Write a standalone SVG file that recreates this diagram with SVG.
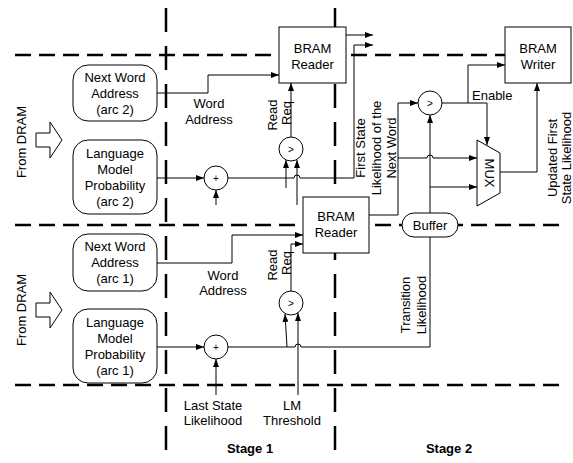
<svg xmlns="http://www.w3.org/2000/svg" width="573" height="463" viewBox="0 0 573 463">
<defs>
<marker id="ah" markerUnits="userSpaceOnUse" viewBox="0 0 8 6" markerWidth="8" markerHeight="6" refX="8" refY="3" orient="auto">
<path d="M0,0 L8,3 L0,6 z" fill="#000"/>
</marker>
<style>
.dh{stroke:#000;stroke-width:2.5;stroke-dasharray:16 8;fill:none}
.dv{stroke:#000;stroke-width:2.5;stroke-dasharray:24 14;fill:none}
.c{stroke:#000;stroke-width:1;fill:none}
.a{marker-end:url(#ah)}
.box{fill:#fff;stroke:#000;stroke-width:1}
text{font-family:"Liberation Sans",Arial,sans-serif;font-size:13px;fill:#000}
.m{text-anchor:middle}
.b{font-weight:bold}
.s{font-size:10px}
</style>
</defs>
<rect width="573" height="463" fill="#fff"/>
<g id="stage-lines">
<line class="dh" x1="15" y1="55" x2="560" y2="55"/>
<line class="dh" x1="15" y1="225" x2="560" y2="225"/>
<line class="dh" x1="15" y1="385" x2="560" y2="385"/>
<line class="dv" x1="166" y1="8" x2="166" y2="455"/>
<line class="dv" x1="335" y1="8" x2="335" y2="455"/>
</g>
<g id="connectors">
<path class="c a" d="M157,93 H208 V75 H279"/>
<path class="c a" d="M157,178 H204"/>
<path class="c a" d="M216,205 V190"/>
<path class="c a" d="M228,178 H294 A3,3 0 0 1 300,178 H354 V45 H373"/>
<path class="c a" d="M286,188 V160"/>
<path class="c a" d="M297,205 V160"/>
<path class="c a" d="M291,137 V83"/>
<path class="c a" d="M346,35 H373"/>
<path class="c a" d="M157,263 H232 V235 H303"/>
<path class="c a" d="M157,347 H204"/>
<path class="c a" d="M216,395 V359"/>
<path class="c" d="M228,347 H295 A3,3 0 0 1 301,347 H430 V237"/>
<path class="c a" d="M287,347 L285,314"/>
<path class="c a" d="M298,395 V313"/>
<path class="c a" d="M291,291 V244 H303"/>
<path class="c a" d="M369,215 H398 V103 H418"/>
<path class="c a" d="M398,158 H427 A3,3 0 0 1 433,158 H477"/>
<path class="c a" d="M430,213 V115"/>
<path class="c a" d="M430,187 H477"/>
<path class="c a" d="M442,103 H487 V145"/>
<path class="c a" d="M468,103 V65 H505"/>
<path class="c a" d="M500,172 H537 V83"/>
</g>
<g id="from-dram-2">
<polygon class="box" points="36,133 50,133 50,122 62,140 50,158 50,147 36,147"/>
<text transform="translate(26,142) rotate(-90)" class="m">From DRAM</text>
</g>
<g id="from-dram-1">
<polygon class="box" points="36,303 50,303 50,292 62,310 50,328 50,317 36,317"/>
<text transform="translate(26,310) rotate(-90)" class="m">From DRAM</text>
</g>
<g id="nwa2">
<rect class="box" x="73" y="65" width="84" height="56" rx="15"/>
<text class="m" x="115" y="82">Next Word</text>
<text class="m" x="115" y="98">Address</text>
<text class="m" x="115" y="114">(arc 2)</text>
</g>
<g id="lm2">
<rect class="box" x="73" y="140" width="84" height="74" rx="15"/>
<text class="m" x="115" y="158">Language</text>
<text class="m" x="115" y="174">Model</text>
<text class="m" x="115" y="190">Probability</text>
<text class="m" x="115" y="206">(arc 2)</text>
</g>
<g id="nwa1">
<rect class="box" x="73" y="234" width="84" height="57" rx="15"/>
<text class="m" x="115" y="251">Next Word</text>
<text class="m" x="115" y="267">Address</text>
<text class="m" x="115" y="283">(arc 1)</text>
</g>
<g id="lm1">
<rect class="box" x="73" y="309" width="84" height="74" rx="15"/>
<text class="m" x="115" y="327">Language</text>
<text class="m" x="115" y="343">Model</text>
<text class="m" x="115" y="359">Probability</text>
<text class="m" x="115" y="375">(arc 1)</text>
</g>
<g id="adder2">
<circle class="box" cx="216" cy="178" r="12"/>
<text class="m s" x="216" y="182">+</text>
</g>
<g id="adder1">
<circle class="box" cx="216" cy="347" r="12"/>
<text class="m s" x="216" y="351">+</text>
</g>
<g id="cmp2">
<circle class="box" cx="291" cy="149" r="12"/>
<text class="m s" x="291" y="153">&gt;</text>
</g>
<g id="cmp1">
<circle class="box" cx="291" cy="303" r="12"/>
<text class="m s" x="291" y="307">&gt;</text>
</g>
<g id="cmp3">
<circle class="box" cx="430" cy="103" r="12"/>
<text class="m s" x="430" y="107">&gt;</text>
</g>
<g id="bram-reader-2">
<rect class="box" x="279" y="27" width="67" height="56"/>
<text class="m" x="312.5" y="53">BRAM</text>
<text class="m" x="312.5" y="69">Reader</text>
</g>
<g id="bram-reader-1">
<rect class="box" x="303" y="197" width="66" height="56"/>
<text class="m" x="336" y="221">BRAM</text>
<text class="m" x="336" y="237">Reader</text>
</g>
<g id="bram-writer">
<rect class="box" x="505" y="27" width="66" height="56"/>
<text class="m" x="538" y="53">BRAM</text>
<text class="m" x="538" y="69">Writer</text>
</g>
<g id="buffer">
<rect class="box" x="402" y="213" width="56" height="24" rx="12"/>
<text class="m" x="430" y="230">Buffer</text>
</g>
<g id="mux">
<polygon class="box" points="477,140 500,153 500,193 477,206"/>
<text class="m" transform="translate(484.5,173) rotate(90)">MUX</text>
</g>
<g id="labels">
<text class="m" x="209" y="108">Word</text>
<text class="m" x="209" y="124">Address</text>
<text class="m" x="223" y="280">Word</text>
<text class="m" x="223" y="295">Address</text>
<text class="m" transform="translate(277,115) rotate(-90)">Read</text>
<text class="m" transform="translate(291,113) rotate(-90)">Req</text>
<text class="m" transform="translate(277,265) rotate(-90)">Read</text>
<text class="m" transform="translate(291,263) rotate(-90)">Req</text>
<text class="m" transform="translate(365,148) rotate(-90)">First State</text>
<text class="m" transform="translate(381,148) rotate(-90)">Likelihood of the</text>
<text class="m" transform="translate(396,148) rotate(-90)">Next Word</text>
<text class="m" transform="translate(410,305) rotate(-90)">Transition</text>
<text class="m" transform="translate(426,305) rotate(-90)">Likelihood</text>
<text class="m" transform="translate(557,158) rotate(-90)">Updated First</text>
<text class="m" transform="translate(571,158) rotate(-90)">State Likelihood</text>
<text x="472" y="100">Enable</text>
<text class="m" x="213" y="410">Last State</text>
<text class="m" x="213" y="425">Likelihood</text>
<text class="m" x="292" y="410">LM</text>
<text class="m" x="292" y="425">Threshold</text>
<text class="m b" x="250" y="453">Stage 1</text>
<text class="m b" x="449" y="453">Stage 2</text>
</g>
</svg>
